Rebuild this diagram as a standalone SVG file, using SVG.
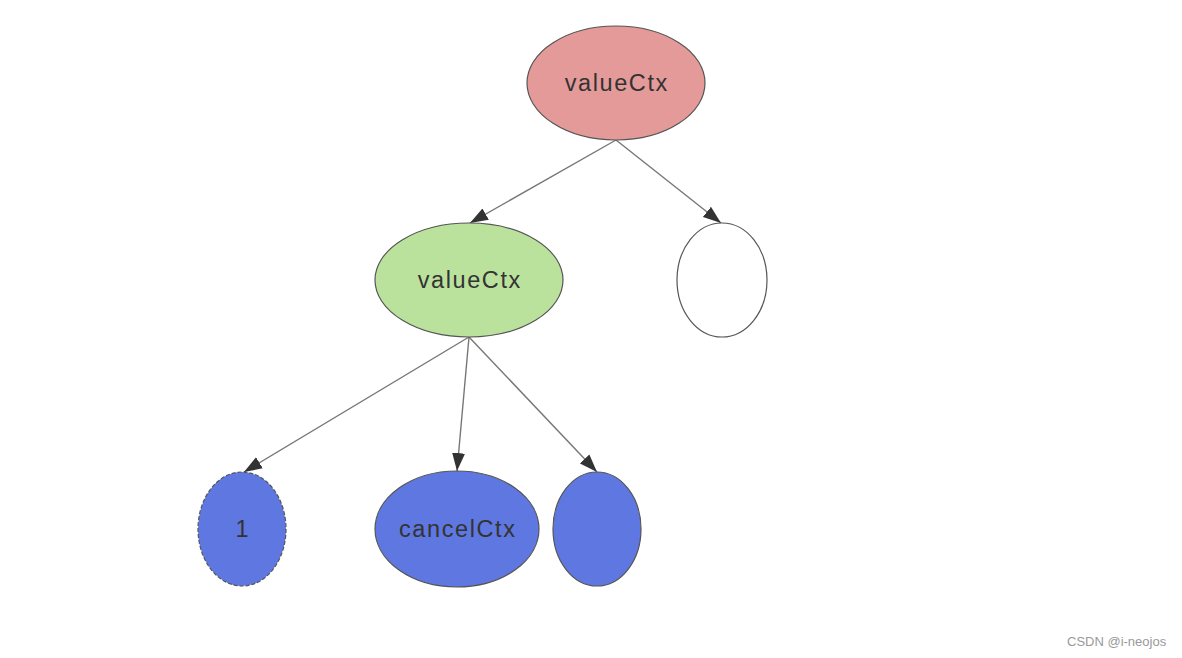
<svg xmlns="http://www.w3.org/2000/svg" width="1182" height="658" viewBox="0 0 1182 658">
<style>
.node{stroke:#555;stroke-width:1.2}
.lbl{font-family:"Liberation Sans",Arial,sans-serif;font-size:23.5px;letter-spacing:1.6px;fill:#333;text-anchor:middle;dominant-baseline:central}
.edge{stroke:#777;stroke-width:1.4;fill:none;marker-end:url(#arr)}
.wm{font-family:"Liberation Sans",Arial,sans-serif;font-size:13px;fill:#999}
</style>
<defs>
<marker id="arr" markerUnits="userSpaceOnUse" markerWidth="20" markerHeight="14" refX="18" refY="7" orient="auto">
<path d="M0,0.5 L18,7 L0,13.5 z" fill="#333"/>
</marker>
</defs>
<rect width="1182" height="658" fill="#fff"/>
<g id="connectors">
<line class="edge" x1="616" y1="140" x2="470" y2="223"/>
<line class="edge" x1="616" y1="140" x2="721" y2="223"/>
<line class="edge" x1="469" y1="337" x2="244" y2="472"/>
<line class="edge" x1="469" y1="337" x2="457" y2="471"/>
<line class="edge" x1="469" y1="337" x2="597" y2="472"/>
</g>
<g id="root">
<ellipse class="node" cx="616" cy="83" rx="89" ry="57" fill="#E49A99"/>
<text class="lbl" x="616.8" y="83">valueCtx</text>
</g>
<g id="child-valueCtx">
<ellipse class="node" cx="469" cy="280" rx="94" ry="57" fill="#BBE29C"/>
<text class="lbl" x="469.8" y="280">valueCtx</text>
</g>
<g id="child-empty">
<ellipse class="node" cx="722" cy="280" rx="45" ry="57" fill="#fff"/>
</g>
<g id="leaf-1">
<ellipse class="node" cx="242" cy="529" rx="44" ry="57" fill="#5F77E0" stroke-dasharray="4,2"/>
<text class="lbl" x="242.8" y="529">1</text>
</g>
<g id="leaf-cancelCtx">
<ellipse class="node" cx="457" cy="529" rx="82" ry="58" fill="#5F77E0"/>
<text class="lbl" x="457.8" y="529">cancelCtx</text>
</g>
<g id="leaf-empty">
<ellipse class="node" cx="597" cy="529" rx="44" ry="57" fill="#5F77E0"/>
</g>
<text class="wm" x="1067" y="646">CSDN @i-neojos</text>
</svg>
